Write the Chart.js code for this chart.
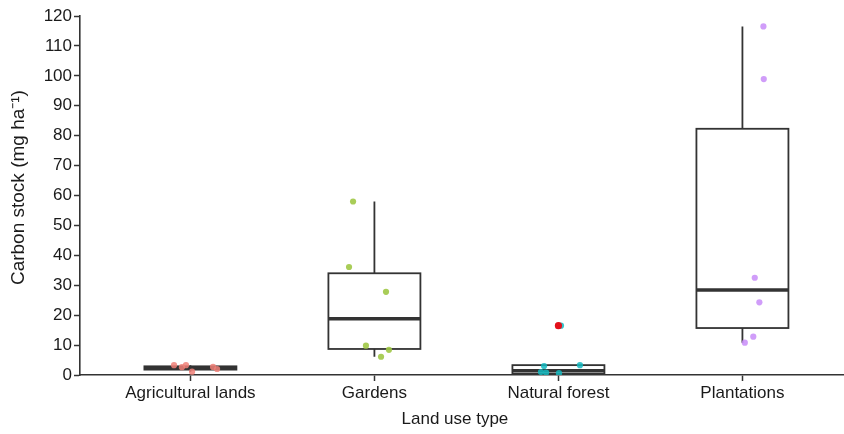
<!DOCTYPE html>
<html>
<head>
<meta charset="utf-8">
<script src="https://cdn.jsdelivr.net/npm/chart.js@4/dist/chart.umd.min.js"></script>
<style>
  html, body { margin: 0; padding: 0; background: #ffffff; }
  #wrap { position: relative; width: 844px; height: 434px; }
</style>
</head>
<body>
<div id="wrap"><canvas id="c"></canvas></div>
<script>
// Land use categories (x axis)
const categories = ['Agricultural lands', 'Gardens', 'Natural forest', 'Plantations'];

// Box statistics per category (Mg ha-1)
const whiskerLow  = [1.1, 6.1, 0.6, 10.8];
const lowerQ      = [1.8, 8.7, 0.4, 15.7];
const medians     = [2.3, 18.8, 1.4, 28.4];
const upperQ      = [2.9, 34.0, 3.3, 82.3];
const whiskerHigh = [3.3, 58.0, 3.3, 116.5];

// Individual plot observations (jittered points)
const agriValues    = [3.3, 2.6, 3.3, 1.1, 2.7, 2.0];
const agriJitter    = [-0.089, -0.046, -0.024, 0.009, 0.123, 0.145];
const gardenValues  = [58.0, 36.1, 27.8, 9.8, 8.4, 6.1];
const gardenJitter  = [-0.116, -0.138, 0.063, -0.046, 0.079, 0.036];
const forestValues  = [16.5, 3.0, 3.3, 1.0, 0.8, 0.6];
const forestJitter  = [0.014, -0.078, 0.117, -0.095, -0.067, 0.003];
const plantValues   = [116.5, 98.9, 32.5, 24.3, 12.8, 10.8];
const plantJitter   = [0.114, 0.116, 0.067, 0.092, 0.059, 0.013];

// Outliers flagged by the boxplot
const outlierCategory = [3];
const outlierValues   = [16.5];

// Y axis ticks
const yTicks = [0, 10, 20, 30, 40, 50, 60, 70, 80, 90, 100, 110, 120];

const pointColors = ['rgba(240,128,120,0.85)', 'rgba(160,200,70,0.9)', 'rgba(20,184,192,0.85)', 'rgba(200,140,248,0.85)'];
const groups = [
  [agriValues, agriJitter],
  [gardenValues, gardenJitter],
  [forestValues, forestJitter],
  [plantValues, plantJitter]
];

const FONT = "'Liberation Sans', Arial, sans-serif";
const INK = '#333333';

// Box-and-whisker drawing through the chart's scales
const boxPlugin = {
  id: 'boxes',
  beforeDatasetsDraw(chart) {
    const ctx = chart.ctx;
    const xs = chart.scales.x, ys = chart.scales.y;
    ctx.save();
    ctx.strokeStyle = INK;
    ctx.lineCap = 'butt';
    categories.forEach((c, i) => {
      const cx = xs.getPixelForValue(i + 1);
      const x0 = xs.getPixelForValue(i + 1 - 0.25);
      const x1 = xs.getPixelForValue(i + 1 + 0.25);
      const yLo = ys.getPixelForValue(whiskerLow[i]);
      const yQ1 = ys.getPixelForValue(lowerQ[i]);
      const yMed = ys.getPixelForValue(medians[i]);
      const yQ3 = ys.getPixelForValue(upperQ[i]);
      const yHi = ys.getPixelForValue(whiskerHigh[i]);
      ctx.lineWidth = 1.8;
      ctx.beginPath();
      if (yHi < yQ3) { ctx.moveTo(cx, yQ3); ctx.lineTo(cx, yHi); }
      if (yLo > yQ1) { ctx.moveTo(cx, yQ1); ctx.lineTo(cx, yLo); }
      ctx.stroke();
      ctx.fillStyle = '#ffffff';
      ctx.fillRect(x0, yQ3, x1 - x0, yQ1 - yQ3);
      ctx.strokeRect(x0, yQ3, x1 - x0, yQ1 - yQ3);
      ctx.lineWidth = 3.6;
      ctx.beginPath();
      ctx.moveTo(x0, yMed); ctx.lineTo(x1, yMed);
      ctx.stroke();
    });
    ctx.restore();
  }
};

const datasets = [{
  label: 'Outliers',
  data: outlierValues.map((v, k) => ({ x: outlierCategory[k], y: v })),
  backgroundColor: '#e3101a',
  pointRadius: 3.6,
  borderWidth: 0
}];
groups.forEach(([vals, jit], i) => {
  datasets.push({
    label: categories[i],
    data: vals.map((v, k) => ({ x: i + 1 + jit[k], y: v })),
    backgroundColor: pointColors[i],
    pointRadius: 3.1,
    borderWidth: 0
  });
});

new Chart(document.getElementById('c'), {
  type: 'scatter',
  data: { datasets },
  plugins: [boxPlugin],
  options: {
    responsive: true,
    maintainAspectRatio: false,
    animation: false,
    events: [],
    layout: { autoPadding: false, padding: { top: 16, left: 0, right: 0, bottom: 0 } },
    plugins: { legend: { display: false }, tooltip: { enabled: false } },
    scales: {
      x: {
        type: 'linear',
        min: 0.4,
        max: 4.552,
        afterBuildTicks: (s) => { s.ticks = categories.map((c, i) => ({ value: i + 1 })); },
        afterFit: (s) => { s.height = 59; },
        ticks: {
          autoSkip: false,
          maxRotation: 0,
          padding: 2,
          color: '#1a1a1a',
          font: { family: FONT, size: 17 },
          callback: (v) => categories[Math.round(v) - 1]
        },
        grid: { drawOnChartArea: false, tickLength: 6, color: INK, tickWidth: 1.5 },
        border: { display: true, color: INK, width: 1.6 },
        title: {
          display: true,
          text: 'Land use type\u00a0\u00a0\u00a0',
          color: '#1a1a1a',
          font: { family: FONT, size: 17 },
          padding: { top: 0, bottom: 4 }
        }
      },
      y: {
        min: 0,
        max: 120,
        afterBuildTicks: (s) => { s.ticks = yTicks.map(v => ({ value: v })); },
        afterFit: (s) => { s.width = 80; },
        ticks: {
          padding: 2,
          color: '#1a1a1a',
          font: { family: FONT, size: 17 }
        },
        grid: { drawOnChartArea: false, tickLength: 6, color: INK, tickWidth: 1.5 },
        border: { display: true, color: INK, width: 1.6 },
        title: {
          display: true,
          text: '\u00a0\u00a0\u00a0Carbon stock (mg ha\u207b\u00b9)',
          color: '#1a1a1a',
          font: { family: FONT, size: 19 },
          padding: { top: 7, bottom: 0 }
        }
      }
    }
  }
});
</script>
</body>
</html>
